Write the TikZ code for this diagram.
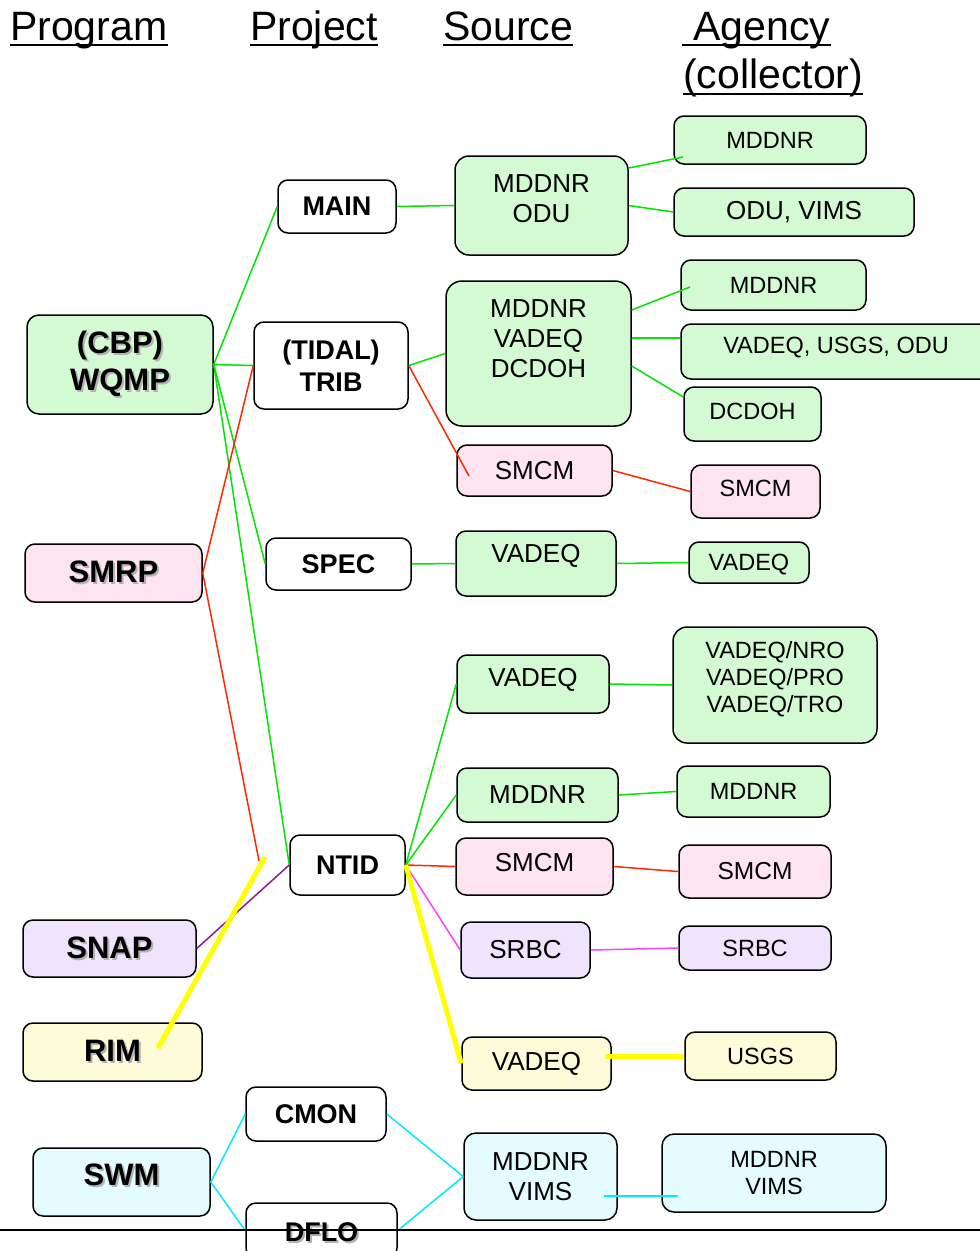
\documentclass[tikz,border=0pt]{standalone}
\usepackage{fontspec}
\setmainfont{Liberation Sans}
\definecolor{mintfill}{RGB}{212,250,212}
\definecolor{pinkfill}{RGB}{253,228,240}
\definecolor{lilacfill}{RGB}{240,228,252}
\definecolor{creamfill}{RGB}{254,252,216}
\definecolor{icefill}{RGB}{228,252,254}
\definecolor{linegreen}{RGB}{0,230,0}
\definecolor{linered}{RGB}{255,40,0}
\definecolor{linepink}{RGB}{255,64,255}
\definecolor{lineplum}{RGB}{140,30,140}
\definecolor{lineyellow}{RGB}{255,255,0}
\definecolor{linecyan}{RGB}{0,235,255}
\newcommand{\shadetxt}[1]{\rlap{\hspace{2pt}\raisebox{-2pt}{\color{black!30}#1}}#1}
\tikzset{
  head/.style={inner sep=0pt, font=\fontsize{41}{45}\selectfont},
  box/.style={draw=black, line width=1.5pt, rounded corners=10pt, inner sep=0pt, align=center},
  prog/.style={box, font=\fontsize{31}{37}\selectfont\bfseries},
  proj/.style={box, fill=white, font=\fontsize{27}{32}\selectfont\bfseries},
  src/.style={box, font=\fontsize{26}{30}\selectfont},
  src text/.style={inner sep=0pt, align=center, font=\fontsize{26}{30}\selectfont},
  agcy/.style={box, font=\fontsize{23.5}{27}\selectfont},
  agcy text/.style={inner sep=0pt, align=center, font=\fontsize{23.5}{27}\selectfont},
  link/.style={line width=1.5pt},
  fat link/.style={line width=5pt, lineyellow}
}
\begin{document}
\begin{tikzpicture}[x=1pt,y=-1pt]
\clip (0,0) rectangle (980,1251);
\fill[white] (0,0) rectangle (980,1251);
% column headings
\node[head, anchor=base west] (hprog) at (10,40) {Program};
\node[head, anchor=base west] (hproj) at (250,40) {Project};
\node[head, anchor=base west] (hsrc) at (443,40) {Source};
\node[head, anchor=base west] (hagcy) at (682,40) {\ Agency};
\node[head, anchor=base west] (hcoll) at (683,88) {(collector)};
\foreach \h in {hprog,hproj,hsrc,hagcy}
  \draw[line width=2pt] ([yshift=-4.5pt]\h.base west) -- ([yshift=-4.5pt]\h.base east);
\draw[line width=2pt] ([yshift=-5.5pt]hcoll.base west) -- ([yshift=-5.5pt]hcoll.base east);

% programs
\node[prog, fill=mintfill, minimum width=186, minimum height=99, rounded corners=12pt] (wqmp) at (120,364.5) {\shadetxt{(CBP)}\\\shadetxt{WQMP}};
\node[prog, fill=pinkfill, minimum width=177, minimum height=58] (smrp) at (113.5,573) {\shadetxt{SMRP}};
\node[prog, fill=lilacfill, minimum width=173, minimum height=57] (snap) at (109.5,948.5) {\shadetxt{SNAP}};
\node[prog, fill=creamfill, minimum width=179, minimum height=58] (rim) at (112.5,1052) {\shadetxt{RIM}};
\node[prog, fill=icefill, minimum width=177, minimum height=68, label={[prog, draw=none, fill=none, yshift=6pt]center:\shadetxt{SWM}}] (swm) at (121.5,1182) {};

% projects
\node[proj, minimum width=118, minimum height=53] (main) at (337,206.5) {MAIN};
\node[proj, minimum width=154, minimum height=87] (trib) at (331,365.5) {(TIDAL)\\TRIB};
\node[proj, minimum width=145, minimum height=52] (spec) at (338.5,564) {SPEC};
\node[proj, minimum width=115, minimum height=60] (ntid) at (347.5,865) {NTID};
\node[proj, minimum width=140, minimum height=54] (cmon) at (316,1114) {CMON};
\node[proj, minimum width=151, minimum height=55,
  label={[proj, draw=none, fill=none, yshift=-2.5pt]center:\shadetxt{DFLO}}] (dflo) at (321.5,1230.5) {};

% sources
\node[src, fill=mintfill, minimum width=173, minimum height=99, rounded corners=14pt,
  label={[src text, yshift=7pt]center:{MDDNR\\ODU}}] (s1) at (541.5,205.5) {};
\node[src, fill=mintfill, minimum width=185, minimum height=145, rounded corners=16pt,
  label={[src text, yshift=14.5pt]center:{MDDNR\\VADEQ\\DCDOH}}] (s2) at (538.5,353.5) {};
\node[src, fill=pinkfill, minimum width=155, minimum height=51] (s3) at (534.5,470.5) {SMCM};
\node[src, fill=mintfill, minimum width=160, minimum height=65,
  label={[src text, yshift=7.5pt]center:VADEQ}] (s4) at (536,563.5) {};
\node[src, fill=mintfill, minimum width=152, minimum height=58,
  label={[src text, yshift=4pt]center:VADEQ}] (s5) at (533,684) {};
\node[src, fill=mintfill, minimum width=161, minimum height=54] (s6) at (537.5,795) {MDDNR};
\node[src, fill=pinkfill, minimum width=157, minimum height=57,
  label={[src text, yshift=3.5pt]center:SMCM}] (s7) at (534.5,866.5) {};
\node[src, fill=lilacfill, minimum width=129, minimum height=56] (s8) at (525.5,950) {SRBC};
\node[src, fill=creamfill, minimum width=149, minimum height=53] (s9) at (536.5,1063.5) {VADEQ};
\node[src, fill=icefill, minimum width=153, minimum height=87, rounded corners=12pt] (s10) at (540.5,1176.5) {MDDNR\\VIMS};

% agencies
\node[agcy, fill=mintfill, minimum width=192, minimum height=48] (a1) at (770,140) {MDDNR};
\node[agcy, fill=mintfill, minimum width=240, minimum height=48, font=\fontsize{26}{30}\selectfont] (a2) at (794,212) {ODU, VIMS};
\node[agcy, fill=mintfill, minimum width=185, minimum height=50] (a3) at (773.5,285) {MDDNR};
\node[agcy, fill=mintfill, minimum width=310, minimum height=55,
  label={[agcy text, yshift=3.5pt]center:{VADEQ, USGS, ODU}}] (a4) at (836,351.5) {};
\node[agcy, fill=mintfill, minimum width=137, minimum height=54,
  label={[agcy text, yshift=3pt]center:DCDOH}] (a5) at (752.5,414) {};
\node[agcy, fill=pinkfill, minimum width=129, minimum height=53,
  label={[agcy text, yshift=3.5pt]center:SMCM}] (a6) at (755.5,491.5) {};
\node[agcy, fill=mintfill, minimum width=120, minimum height=41,
  label={[agcy text, yshift=-2.5pt]center:VADEQ}] (a7) at (749,562.5) {};
\node[agcy, fill=mintfill, minimum width=204, minimum height=116, rounded corners=14pt,
  label={[agcy text, yshift=6pt]center:{VADEQ/NRO\\VADEQ/PRO\\VADEQ/TRO}}] (a8) at (775,685) {};
\node[agcy, fill=mintfill, minimum width=153, minimum height=51] (a9) at (753.5,791.5) {MDDNR};
\node[agcy, fill=pinkfill, minimum width=152, minimum height=53, font=\fontsize{24.5}{28}\selectfont] (a10) at (755,871.5) {SMCM};
\node[agcy, fill=lilacfill, minimum width=152, minimum height=44] (a11) at (755,948) {SRBC};
\node[agcy, fill=creamfill, minimum width=151, minimum height=48] (a12) at (760.5,1056) {USGS};
\node[agcy, fill=icefill, minimum width=224, minimum height=78, rounded corners=12pt] (a13) at (774,1173) {MDDNR\\VIMS};

% loose line ends
\coordinate (redend) at (259,861);
\coordinate (rimlo) at (158,1048);
\coordinate (rimhi) at (265,857);
\coordinate (smcmin) at (469,476);
\coordinate (a1in) at (683,157);
\coordinate (a3in) at (690,287);
\coordinate (s9in) at (605,1056);
\coordinate (s10in) at (604,1196);
\coordinate (a13in) at (678,1196);

% connectors
\foreach \p in {main,trib,spec,ntid}
  \draw[link, linegreen] (wqmp.east) -- (\p.west);
\draw[link, linered] (smrp.east) -- (trib.west);
\draw[link, linered] (smrp.east) -- (redend);
\draw[link, lineplum] (snap.east) -- (ntid.west);
\draw[fat link] (rimlo) -- (rimhi);
\draw[link, linegreen] (main.east) -- (s1.west);
\draw[link, linegreen] (trib.east) -- (s2.west);
\draw[link, linered] (trib.east) -- (smcmin);
\draw[link, linegreen] (spec.east) -- (s4.west);
\foreach \s in {s5,s6}
  \draw[link, linegreen] (ntid.east) -- (\s.west);
\draw[link, linered] (ntid.east) -- (s7.west);
\draw[link, linepink] (ntid.east) -- (s8.west);
\draw[fat link] (ntid.east) -- (s9.west);
\draw[link, linecyan] (swm.east) -- (cmon.west);
\draw[link, linecyan] (swm.east) -- (dflo.west);
\draw[link, linecyan] (cmon.east) -- (s10.west);
\draw[link, linecyan] (dflo.east) -- (s10.west);
\draw[link, linegreen] ([yshift=37.5pt]s1.east) -- (a1in);
\draw[link, linegreen] (s1.east) -- (a2.west);
\draw[link, linegreen] ([yshift=43.5pt]s2.east) -- (a3in);
\draw[link, linegreen] ([yshift=15.5pt]s2.east) -- ([yshift=13.5pt]a4.west);
\draw[link, linegreen] ([yshift=-12.5pt]s2.east) -- ([yshift=17pt]a5.west);
\draw[link, linered] (s3.east) -- (a6.west);
\draw[link, linegreen] (s4.east) -- (a7.west);
\draw[link, linegreen] (s5.east) -- (a8.west);
\draw[link, linegreen] (s6.east) -- (a9.west);
\draw[link, linered] (s7.east) -- (a10.west);
\draw[link, linepink] (s8.east) -- (a11.west);
\draw[fat link] (s9in) -- (a12.west);
\draw[link, linecyan] (s10in) -- (a13in);

% page rule
\draw[line width=1.5pt] (0,1230) -- (980,1230);
\end{tikzpicture}
\end{document}
